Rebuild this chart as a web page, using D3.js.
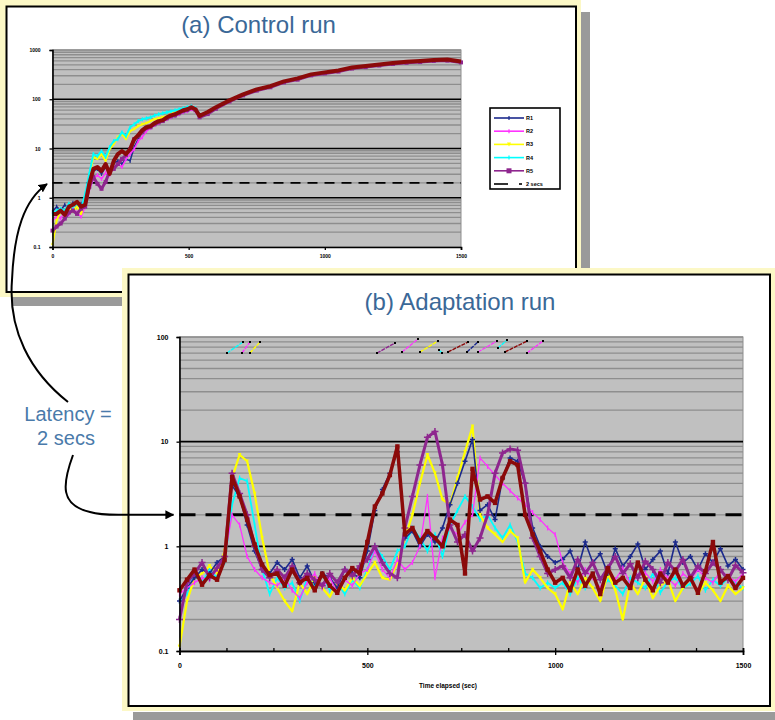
<!DOCTYPE html>
<html>
<head>
<meta charset="utf-8">
<script src="https://cdn.jsdelivr.net/npm/d3@7"></script>
<style>
  body { margin: 0; background: #fff; }
  svg { display: block; font-family: "Liberation Sans", Arial, sans-serif; }
</style>
</head>
<body>
<div id="fig"></div>
<script>
// ---------------- data ----------------
const latency = 2; // secs, the dashed line

// (a) control run
const timeA = [0,15,30,45,60,75,90,105,120,135,150,165,180,195,210,225,240,255,270,285,300,315,330,345,360,375,390,405,420,435,450,465,480,495,510,525,540,
  570,600,650,700,750,800,850,900,950,1000,1050,1100,1150,1200,1250,1300,1350,1400,1450,1500];
const ctrlNavy = [0.52,0.66,0.55,0.72,0.6,0.79,0.66,0.76,0.79,1.52,3.5,3.85,3.05,4.2,3.5,5.1,5.6,4.85,6.1,5.6,10.7,15.5,21.5,24.7,27,31,34,36,41,45,47,52,57,60,66,60,47];
const ctrlMagenta = [0.34,0.41,0.38,0.5,0.45,0.6,0.5,0.41,0.66,1.38,2.4,2.9,2.4,3.2,2.9,4.2,4.85,4.2,6.1,7.7,9.7,14.2,17,22.6,26,30,32.7,36,39.4,43,47,49.6,54.6,57,62.6,57,45];
const ctrlYellow = [0.11,0.34,0.55,0.47,0.6,0.52,0.66,0.47,0.95,2.65,6.7,6.1,7.7,5.6,9.7,12.3,17,19.6,15.5,22.6,24.7,28.5,31,32.7,36,39.4,41,43,45,49.6,54.6,57,60,62.6,66,62,47];
const ctrlCyan = [0.47,0.55,0.6,0.55,0.76,0.66,0.76,0.6,1.2,3.05,7.7,7.0,8.9,6.7,10.7,14.2,15.5,21.5,17.8,27,31,36,39.4,41,43,47,49.6,52,54.6,57,60,62.6,66,69,72,66,49.6];
const ctrlPurple = [0.215,0.26,0.3,0.377,0.5,0.55,0.47,0.6,0.66,1.67,2.65,1.92,1.52,2.1,3.5,3.85,4.85,6.1,7.4,9.7,15.5,17.8,21.5,26,27,31,34,36,41,45,47,52,57,60,66,60,43,
  50,64,90,120,150,175,220,250,305,335,365,420,450,485,520,550,570,600,610,560];
const ctrlMaroon = [0.47,0.47,0.55,0.45,0.66,0.72,0.83,0.66,0.72,1.92,3.85,4.2,3.5,4.85,3.05,5.6,7.7,8.9,7.7,9.7,15.5,18.7,23.6,27,28.5,32.7,36,37.6,43,47,49.6,54.6,60,62.6,69,62.6,46,
  55,69,95,126,159,184,231,265,320,351,385,440,475,510,545,575,600,630,640,585];
const legendNamesA = ["R1","R2","R3","R4","R5","2 secs"];

// (b) adaptation run
const timeB = [0,20,40,60,80,100,120,140,160,180,200,220,240,260,280,300,320,340,360,380,400,420,440,460,480,500,
  520,540,560,580,600,620,640,660,680,700,720,740,760,780,800,820,840,860,880,900,920,940,960,980,1000,
  1020,1040,1060,1080,1100,1120,1140,1160,1180,1200,1220,1240,1260,1280,1300,1320,1340,1360,1380,1400,1420,1440,1460,1480,1500];
const adaptNavy = [0.3,0.4,0.5,0.6,0.55,0.7,0.8,3.8,3.0,1.6,0.9,0.6,0.55,
  0.7,0.6,0.75,0.5,0.65,0.45,0.55,0.5,0.4,0.6,0.55,0.5,0.9,
  2.2,3.5,5.0,8.0,1.2,1.4,1.0,1.3,1.1,1.5,2.5,4.0,6.5,10.5,2.2,2.5,1.8,4.5,7.0,6.5,4.0,1.5,1.0,0.8,0.7,
  0.75,0.9,0.6,1.1,0.7,0.85,0.55,0.95,0.65,0.8,1.05,0.6,0.75,0.9,0.55,1.1,0.7,0.8,0.6,0.85,0.7,0.95,0.65,0.75,0.6];
const adaptMagenta = [0.35,0.4,0.45,0.5,0.48,0.6,0.8,2.0,1.6,0.8,0.6,0.5,0.45,
  0.42,0.5,0.38,0.32,0.45,0.55,0.4,0.5,0.36,0.48,0.42,0.55,0.6,
  0.9,0.6,0.5,0.75,0.6,0.7,1.0,3.0,0.5,1.2,1.5,1.3,1.7,2.0,7.0,5.8,4.8,4.0,3.4,2.9,2.5,2.1,1.8,1.5,1.3,0.7,
  0.55,0.45,0.6,0.5,0.4,0.58,0.48,0.62,0.44,0.52,0.56,0.46,0.6,0.5,0.42,0.55,0.48,0.6,0.5,0.45,0.58,0.52,0.46,0.55];
const adaptYellow = [0.11,0.3,0.5,0.55,0.65,0.55,0.9,4.5,7.5,6.5,3.2,1.2,0.55,
  0.4,0.3,0.24,0.45,0.35,0.5,0.4,0.33,0.45,0.38,0.5,0.42,0.55,
  0.7,0.5,0.48,0.7,1.2,2.0,4.0,7.5,5.0,2.8,2.5,4.5,8.0,14.0,2.0,1.5,1.3,1.1,1.4,1.2,0.45,0.6,0.5,0.4,0.35,
  0.25,0.45,0.35,0.5,0.4,0.3,0.55,0.38,0.2,0.45,0.35,0.5,0.32,0.42,0.48,0.3,0.4,0.5,0.35,0.45,0.38,0.3,0.42,0.35,0.4];
const adaptCyan = [0.3,0.35,0.55,0.45,0.6,0.5,0.7,2.5,4.5,4.2,1.6,0.6,0.35,
  0.5,0.4,0.45,0.3,0.5,0.42,0.55,0.38,0.45,0.35,0.48,0.4,0.6,
  1.0,0.8,0.6,0.9,1.0,1.5,1.2,0.9,1.3,0.8,1.6,2.2,3.0,2.4,1.8,2.0,1.5,1.2,1.6,1.1,0.55,0.5,0.4,0.45,0.4,
  0.45,0.35,0.5,0.4,0.55,0.38,0.48,0.42,0.35,0.5,0.45,0.4,0.55,0.36,0.46,0.5,0.4,0.44,0.52,0.38,0.48,0.42,0.5,0.45,0.4];
const adaptPurple = [0.2,0.45,0.55,0.7,0.5,0.62,0.8,5.0,3.2,2.0,1.0,0.6,0.5,
  0.6,0.5,0.65,0.45,0.55,0.48,0.42,0.55,0.45,0.6,0.52,0.65,0.75,
  1.0,0.7,0.55,0.5,1.5,3.0,6.0,11.0,12.5,6.0,1.6,1.1,1.3,0.9,1.2,2.0,5.0,7.8,8.5,8.3,4.0,1.2,0.8,0.55,0.6,
  0.65,0.5,0.75,0.55,0.7,0.48,0.62,0.8,0.55,0.68,0.5,0.72,0.6,0.45,0.7,0.58,0.75,0.5,0.65,0.55,0.7,0.6,0.48,0.66,0.56];
const adaptMaroon = [0.38,0.48,0.6,0.43,0.53,0.48,0.74,4.6,3.0,1.8,1.04,0.67,0.53,
  0.55,0.42,0.6,0.45,0.5,0.38,0.55,0.42,0.36,0.5,0.62,0.55,1.1,
  2.4,3.2,4.8,9.0,1.3,1.5,1.1,1.4,1.2,1.0,1.8,1.6,0.55,5.5,2.8,3.0,2.6,4.5,6.5,6.0,2.0,1.3,0.9,0.6,0.45,
  0.5,0.38,0.6,0.42,0.55,0.35,0.62,0.45,0.5,0.4,0.7,0.48,0.38,0.55,0.45,0.6,0.42,0.5,0.36,0.58,1.1,0.45,0.52,0.4,0.5];

// ticks
const yTicksA = [0.1, 1, 10, 100, 1000];
const xTicksA = [0, 500, 1000, 1500];
const yTicksB = [0.1, 1, 10, 100];
const xTicksB = [0, 500, 1000, 1500];
const xMinorB = [0,125,250,375,500,625,750,875,1000,1125,1250,1375,1500];

// ---------------- styles ----------------
const col = {navy:"#1c2a8c", magenta:"#ff33ff", yellow:"#ffff00", cyan:"#00ffff", purple:"#8e268e", maroon:"#8b0a0a"};
const paleYellow = "#fcf8c6", shadowGray = "#9a9a9a", plotGray = "#c0c0c0", gridGray = "#8e8e8e";
const titleBlue = "#3a6897";
const numFmt = d3.format("~g");

const svg = d3.select("#fig").append("svg")
  .attr("width", 775).attr("height", 720);

svg.append("defs").append("marker")
  .attr("id", "ah").attr("viewBox", "0 0 10 10")
  .attr("refX", 9).attr("refY", 5)
  .attr("markerWidth", 9).attr("markerHeight", 9)
  .attr("markerUnits", "userSpaceOnUse").attr("orient", "auto")
  .append("path").attr("d", "M0,0L10,5L0,10z").attr("fill", "#000");

// frame with pale yellow rim and grey drop shadow
function frame(x0, y0, x1, y1, shadows) {
  shadows.forEach(s => svg.append("rect").attr("x", s[0]).attr("y", s[1])
    .attr("width", s[2]).attr("height", s[3]).attr("fill", shadowGray));
  svg.append("rect").attr("x", x0).attr("y", y0)
    .attr("width", x1 - x0).attr("height", y1 - y0).attr("fill", paleYellow);
  svg.append("rect").attr("x", x0 + 6.5).attr("y", y0 + 6.5)
    .attr("width", x1 - x0 - 11.5).attr("height", y1 - y0 - 11.5)
    .attr("fill", "#fff").attr("stroke", "#000").attr("stroke-width", 2);
}

// log plot background: grey area, minor lines, decade lines
function logBackground(g, x, y, decades) {
  const [x0, x1] = x.range();
  const [yb, yt] = y.range();
  g.append("rect").attr("x", x0).attr("y", yt).attr("width", x1 - x0).attr("height", yb - yt)
    .attr("fill", plotGray).attr("stroke", gridGray).attr("stroke-width", 1);
  const minor = [];
  decades.forEach(d => d3.range(2, 10).forEach(k => minor.push(d * k)));
  g.selectAll(".mg").data(minor.filter(v => v < y.domain()[1])).join("line")
    .attr("x1", x0).attr("x2", x1).attr("y1", d => y(d)).attr("y2", d => y(d))
    .attr("stroke", gridGray).attr("stroke-width", 1.3);
  g.selectAll(".dg").data(decades.slice(1, -1)).join("line")
    .attr("x1", x0).attr("x2", x1).attr("y1", d => y(d)).attr("y2", d => y(d))
    .attr("stroke", "#000").attr("stroke-width", 1.6);
  g.append("line").attr("x1", x0).attr("x2", x1).attr("y1", yt).attr("y2", yt)
    .attr("stroke", gridGray).attr("stroke-width", 1.3);
}

function drawMarkers(g, pts, type, color, s) {
  const m = g.append("g");
  pts.forEach(p => {
    if (type === "plus") {
      m.append("path").attr("d", `M${p[0]-s},${p[1]}h${2*s}M${p[0]},${p[1]-s}v${2*s}`)
        .attr("stroke", color).attr("stroke-width", 1.5);
    } else if (type === "square") {
      m.append("rect").attr("x", p[0]-s).attr("y", p[1]-s).attr("width", 2*s).attr("height", 2*s)
        .attr("fill", color);
    } else if (type === "tick") {
      m.append("path").attr("d", `M${p[0]},${p[1]-s}v${2*s}`)
        .attr("stroke", color).attr("stroke-width", 1.2);
    } else if (type === "tri") {
      m.append("path").attr("d", `M${p[0]-s},${p[1]-s}h${2*s}l${-s},${2*s}z`).attr("fill", color);
    }
  });
}

function drawSeries(g, x, y, time, vals, color, width, mtype, msize) {
  const pts = vals.map((v, i) => [x(time[i]), y(v)]);
  g.append("path").attr("d", d3.line()(pts)).attr("fill", "none")
    .attr("stroke", color).attr("stroke-width", width).attr("stroke-linejoin", "round");
  if (mtype) drawMarkers(g, pts, mtype, color, msize);
}

function styleAxis(a, size) {
  a.select(".domain").attr("stroke", "#000").attr("stroke-width", 1.6);
  a.selectAll(".tick line").attr("stroke", "#000").attr("stroke-width", 1.3);
  a.selectAll("text").attr("font-size", size).attr("font-weight", "bold")
    .attr("font-family", "Liberation Sans, Arial, sans-serif").attr("fill", "#000");
}

// ================= (a) Control run =================
frame(0, 0, 581, 297, [[580, 12, 10, 292], [12, 296, 578, 10]]);

svg.append("text").attr("x", 258.5).attr("y", 33).attr("text-anchor", "middle")
  .attr("font-size", 24).attr("fill", titleBlue).text("(a) Control run");

const xA = d3.scaleLinear().domain([0, 1500]).range([52.5, 461]);
const yA = d3.scaleLog().domain([0.1, 1000]).range([247, 50]);
const gA = svg.append("g");
logBackground(gA, xA, yA, [0.1, 1, 10, 100, 1000]);

gA.append("line").attr("x1", xA(0)).attr("x2", xA(1500))
  .attr("y1", yA(latency)).attr("y2", yA(latency))
  .attr("stroke", "#000").attr("stroke-width", 1.6).attr("stroke-dasharray", "10,7");

drawSeries(gA, xA, yA, timeA, ctrlNavy, col.navy, 1.5, "tick", 2);
drawSeries(gA, xA, yA, timeA, ctrlMagenta, col.magenta, 1.5, "tick", 2);
drawSeries(gA, xA, yA, timeA, ctrlYellow, col.yellow, 2, "tri", 1.5);
drawSeries(gA, xA, yA, timeA, ctrlCyan, col.cyan, 2, "tick", 2);
drawSeries(gA, xA, yA, timeA, ctrlPurple, col.purple, 3, "square", 2);
drawSeries(gA, xA, yA, timeA, ctrlMaroon, col.maroon, 4, null, 0);

const axAy = gA.append("g").attr("transform", `translate(${xA(0)},0)`)
  .call(d3.axisLeft(yA).tickValues(yTicksA).tickFormat(numFmt).tickSize(3).tickPadding(9));
styleAxis(axAy, 5);
const axAx = gA.append("g").attr("transform", `translate(0,${yA(0.1)})`)
  .call(d3.axisBottom(xA).tickValues(xTicksA).tickFormat(numFmt).tickSize(3).tickPadding(4));
styleAxis(axAx, 5);

// legend (a)
const legA = svg.append("g").attr("transform", "translate(490,108)");
legA.append("rect").attr("width", 70).attr("height", 81).attr("fill", "#fff")
  .attr("stroke", "#000").attr("stroke-width", 1.6);
const legColorsA = [col.navy, col.magenta, col.yellow, col.cyan, col.purple, "#000"];
const legMarkA = ["tick", "tick", "tri", "tick", "square", null];
legendNamesA.forEach((name, i) => {
  const yy = 10 + i * 13.2;
  const row = legA.append("g");
  if (i < 5) {
    row.append("line").attr("x1", 4).attr("x2", 34).attr("y1", yy).attr("y2", yy)
      .attr("stroke", legColorsA[i]).attr("stroke-width", 1.6);
    drawMarkers(row, [[19, yy]], legMarkA[i], legColorsA[i], legMarkA[i] === "square" ? 2.5 : 2);
  } else {
    row.append("line").attr("x1", 4).attr("x2", 18).attr("y1", yy).attr("y2", yy)
      .attr("stroke", "#000").attr("stroke-width", 1.6);
    row.append("line").attr("x1", 29).attr("x2", 32).attr("y1", yy).attr("y2", yy)
      .attr("stroke", "#000").attr("stroke-width", 1.6);
  }
  row.append("text").attr("x", 36).attr("y", yy + 2).attr("font-size", 5.5)
    .attr("font-weight", "bold").text(name);
});

// ================= (b) Adaptation run =================
frame(122, 268, 775, 711, [[133, 712, 642, 8]]);

svg.append("text").attr("x", 460).attr("y", 310).attr("text-anchor", "middle")
  .attr("font-size", 24).attr("fill", titleBlue).text("(b) Adaptation run");

const xB = d3.scaleLinear().domain([0, 1500]).range([179.5, 743]);
const yB = d3.scaleLog().domain([0.1, 100]).range([651, 337]);
const gB = svg.append("g");
logBackground(gB, xB, yB, [0.1, 1, 10, 100]);

// legend remnants at top of plot (b)
const legSegsB = [
  [col.cyan, 227, 353, 243, 342], [col.magenta, 242, 353, 250, 342], [col.yellow, 250, 353, 260, 342],
  [col.purple, 377, 353, 395, 343], [col.magenta, 402, 352, 418, 339], [col.yellow, 420, 352, 438, 341],
  [col.cyan, 439, 350, 442, 353], [col.maroon, 448, 352, 468, 342], [col.navy, 467, 352, 478, 342],
  [col.magenta, 478, 352, 497, 341], [col.cyan, 498, 348, 507, 340], [col.maroon, 505, 352, 527, 341],
  [col.magenta, 527, 353, 543, 341]
];
legSegsB.forEach(s => {
  gB.append("line").attr("x1", s[1]).attr("y1", s[2]).attr("x2", s[3]).attr("y2", s[4])
    .attr("stroke", s[0]).attr("stroke-width", 1.4).attr("stroke-dasharray", "4,1");
  gB.append("rect").attr("x", s[1] - 1).attr("y", s[2] - 1).attr("width", 2).attr("height", 2).attr("fill", "#000");
  gB.append("rect").attr("x", s[3] - 1).attr("y", s[4] - 1).attr("width", 2).attr("height", 2).attr("fill", "#000");
});

gB.append("line").attr("x1", xB(0)).attr("x2", xB(1500))
  .attr("y1", yB(latency)).attr("y2", yB(latency))
  .attr("stroke", "#000").attr("stroke-width", 3).attr("stroke-dasharray", "16,10");

drawSeries(gB, xB, yB, timeB, adaptCyan, col.cyan, 1.8, "tick", 2.5);
drawSeries(gB, xB, yB, timeB, adaptYellow, col.yellow, 2.2, "tri", 1.8);
drawSeries(gB, xB, yB, timeB, adaptNavy, col.navy, 1.6, "plus", 2.5);
drawSeries(gB, xB, yB, timeB, adaptMagenta, col.magenta, 1.3, "tick", 2.5);
drawSeries(gB, xB, yB, timeB, adaptPurple, col.purple, 3, "plus", 3.5);
drawSeries(gB, xB, yB, timeB, adaptMaroon, col.maroon, 3.5, "square", 2.2);

const axBy = gB.append("g").attr("transform", `translate(${xB(0)},0)`)
  .call(d3.axisLeft(yB).tickValues(yTicksB).tickFormat(numFmt).tickSize(3).tickPadding(8));
styleAxis(axBy, 7);
const axBminor = gB.append("g").attr("transform", `translate(0,${yB(0.1)})`)
  .call(d3.axisBottom(xB).tickValues(xMinorB).tickFormat("").tickSize(-3));
styleAxis(axBminor, 7);
const axBx = gB.append("g").attr("transform", `translate(0,${yB(0.1)})`)
  .call(d3.axisBottom(xB).tickValues(xTicksB).tickFormat(numFmt).tickSize(4).tickPadding(8));
styleAxis(axBx, 7);

svg.append("text").attr("x", 448).attr("y", 688).attr("text-anchor", "middle")
  .attr("font-size", 6.5).attr("font-weight", "bold").text("Time elapsed (sec)");

// ================= annotation =================
svg.append("text").attr("x", 68).attr("y", 421).attr("text-anchor", "middle")
  .attr("font-size", 20).attr("fill", "#4a7aaa").text("Latency =");
svg.append("text").attr("x", 66).attr("y", 445).attr("text-anchor", "middle")
  .attr("font-size", 20).attr("fill", "#4a7aaa").text("2 secs");

svg.append("path").attr("d", "M68,402 C30,372 8,330 12,280 C14,232 24,200 47,184")
  .attr("fill", "none").attr("stroke", "#000").attr("stroke-width", 2).attr("marker-end", "url(#ah)");
svg.append("path").attr("d", `M73,455 C62,485 60,505 90,512 C100,515 110,${yB(latency)} 120,${yB(latency)} L${xB(0) - 6},${yB(latency)}`)
  .attr("fill", "none").attr("stroke", "#000").attr("stroke-width", 2).attr("marker-end", "url(#ah)");
</script>
</body>
</html>
